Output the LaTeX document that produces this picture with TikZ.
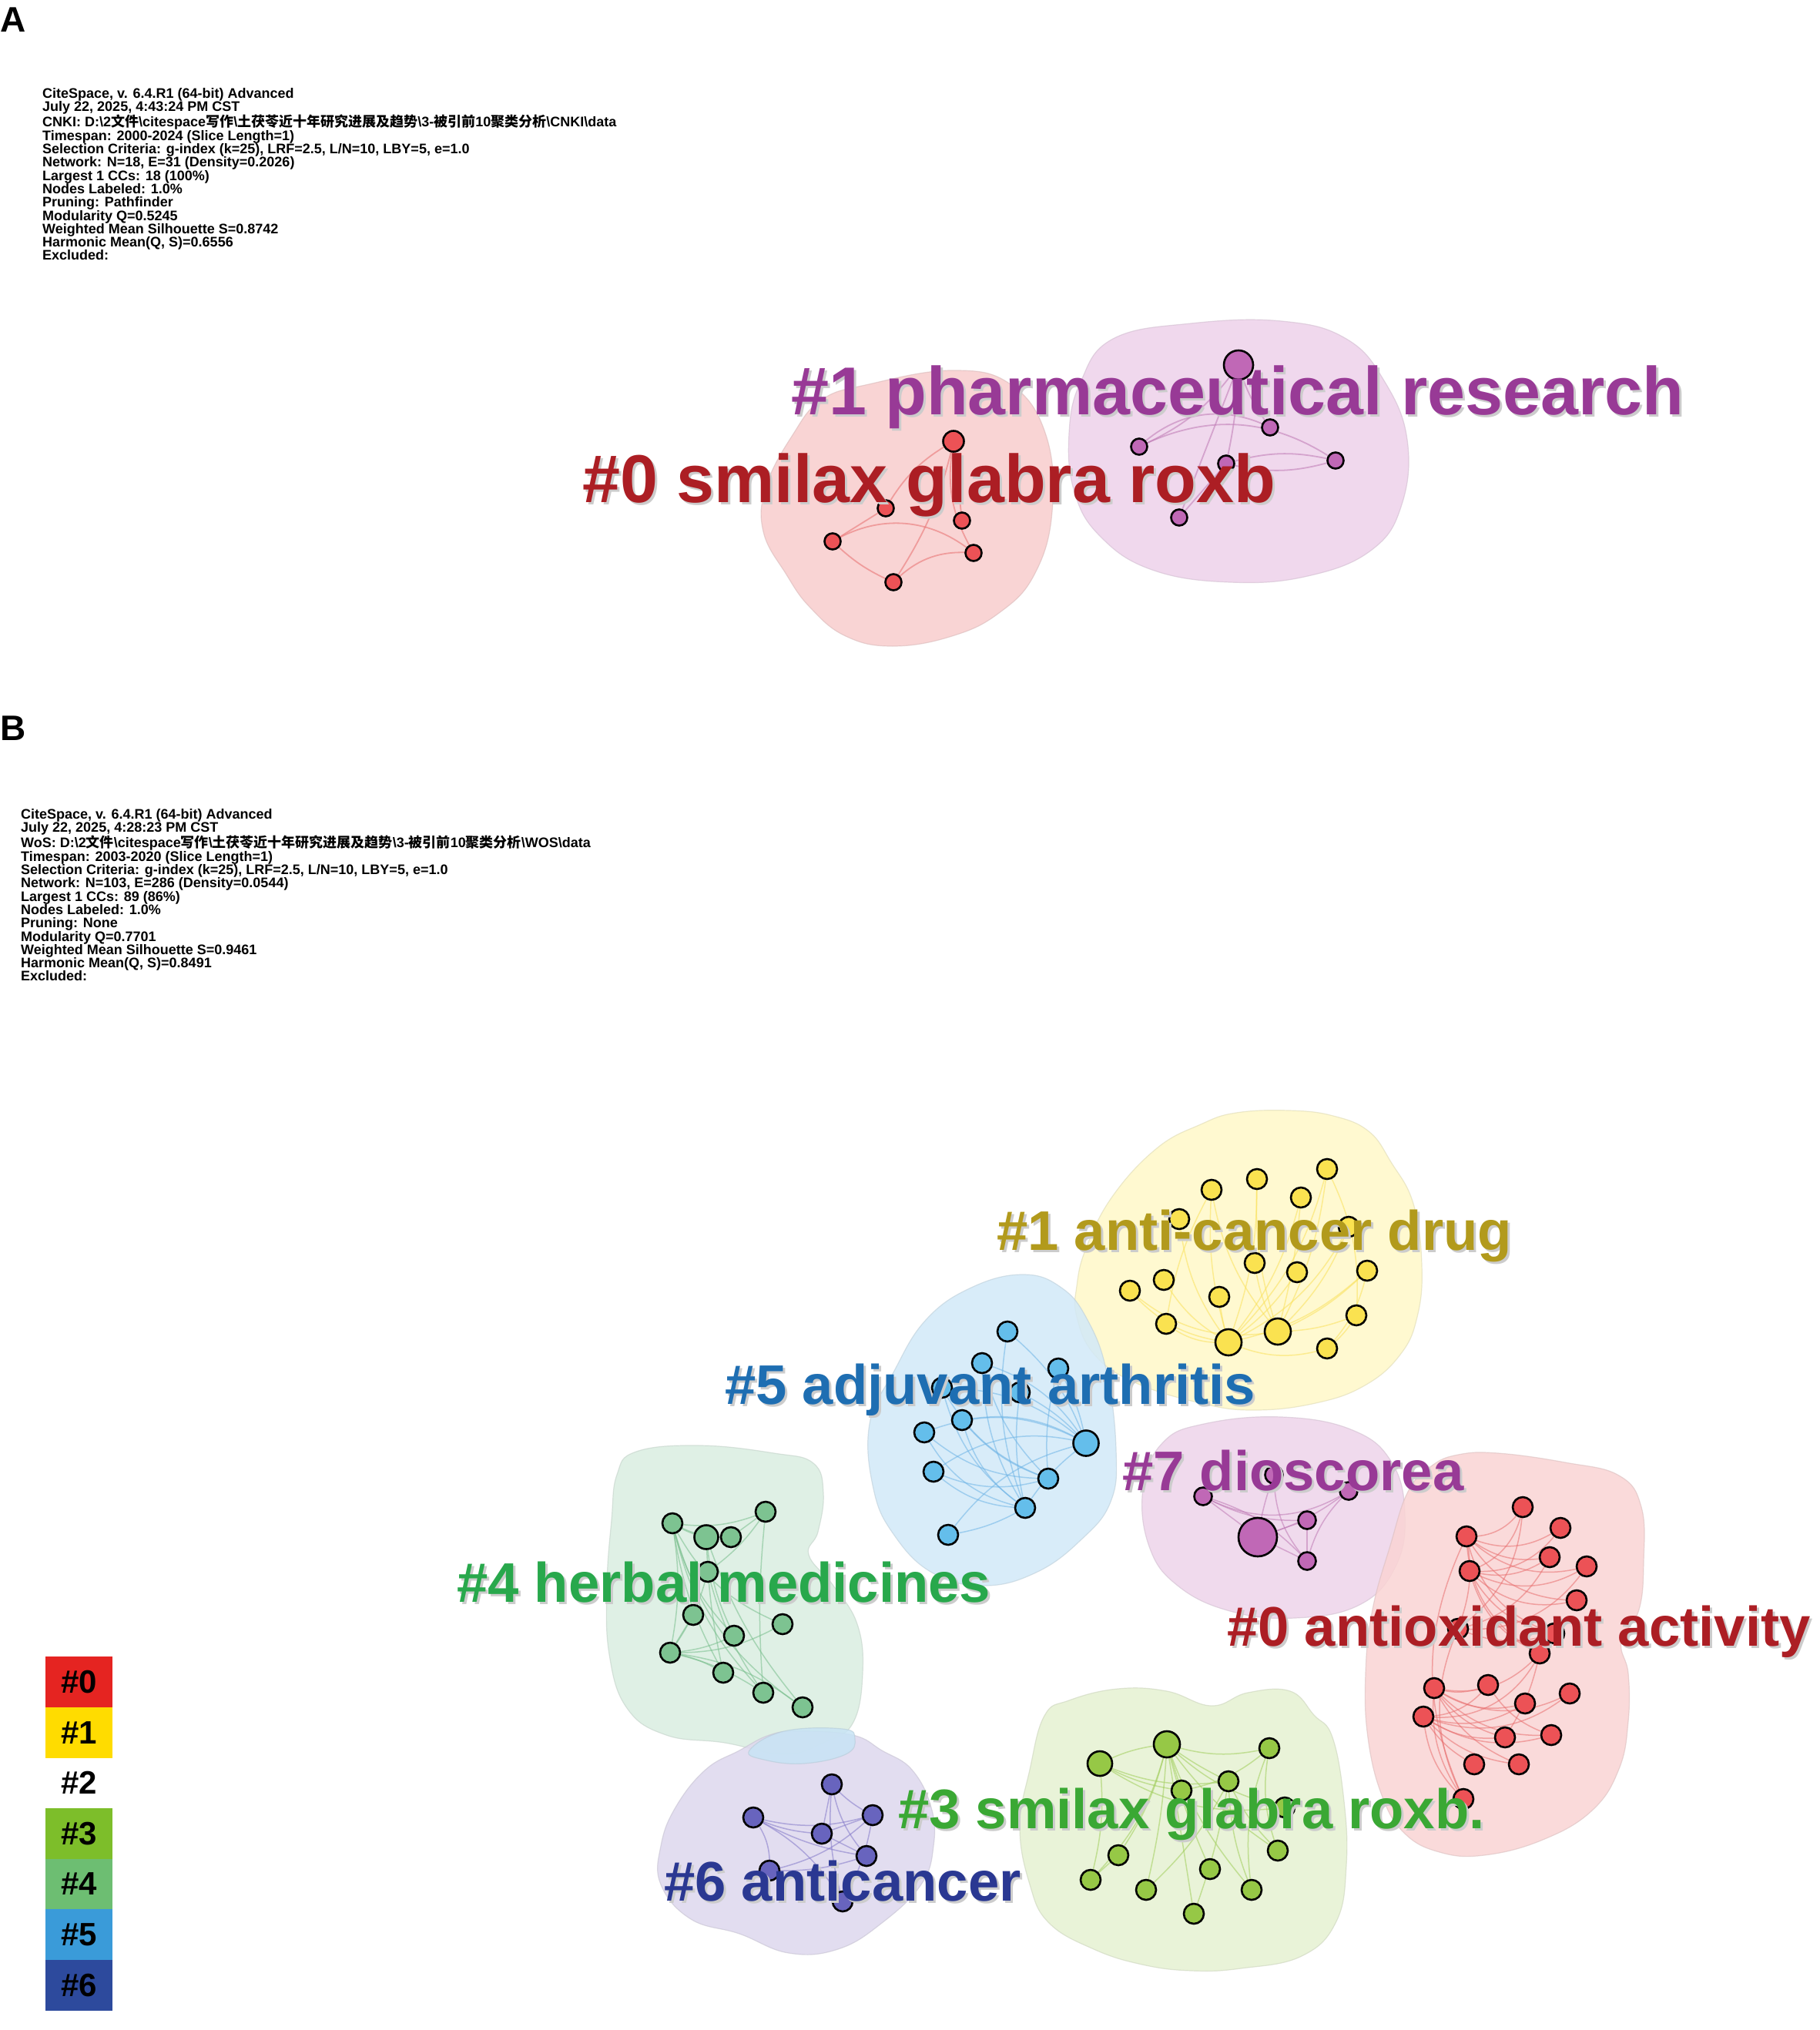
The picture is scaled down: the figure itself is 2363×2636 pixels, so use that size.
\documentclass[tikz,border=0pt]{standalone}
\usepackage{fontspec}
\setmainfont{Liberation Sans}
\newfontfamily\cjk{Noto Sans CJK SC}
\definecolor{labPur}{RGB}{152,58,150}
\definecolor{labRed}{RGB}{172,30,36}
\definecolor{labOli}{RGB}{178,154,28}
\definecolor{labBlu}{RGB}{30,110,178}
\definecolor{labGr4}{RGB}{40,168,76}
\definecolor{labGr3}{RGB}{58,168,52}
\definecolor{labNav}{RGB}{42,56,146}
% blobs
\definecolor{bRedA}{RGB}{248,205,205}
\definecolor{bPurA}{RGB}{238,210,235}
\definecolor{bYel}{RGB}{255,249,200}
\definecolor{bBlu}{RGB}{210,233,248}
\definecolor{bPur7}{RGB}{238,212,235}
\definecolor{bRed0}{RGB}{250,212,212}
\definecolor{bGr4}{RGB}{218,238,225}
\definecolor{bPur6}{RGB}{222,216,238}
\definecolor{bGr3}{RGB}{230,242,210}
\definecolor{bOvl}{RGB}{200,228,245}
% node fills
\definecolor{nRed}{RGB}{236,82,86}
\definecolor{nPur}{RGB}{192,104,182}
\definecolor{nYel}{RGB}{250,226,80}
\definecolor{nBlu}{RGB}{100,190,235}
\definecolor{nGr4}{RGB}{125,195,145}
\definecolor{nPur6}{RGB}{104,100,190}
\definecolor{nGr3}{RGB}{150,200,70}
% edges
\definecolor{eRed}{RGB}{232,110,110}
\definecolor{ePur}{RGB}{190,120,180}
\definecolor{eYel}{RGB}{250,225,90}
\definecolor{eBlu}{RGB}{110,180,230}
\definecolor{eGr4}{RGB}{120,190,140}
\definecolor{ePur6}{RGB}{130,120,200}
\definecolor{eGr3}{RGB}{160,205,90}
% legend
\definecolor{lg0}{RGB}{229,36,33}
\definecolor{lg1}{RGB}{255,220,0}
\definecolor{lg3}{RGB}{125,190,42}
\definecolor{lg4}{RGB}{109,190,114}
\definecolor{lg5}{RGB}{58,155,217}
\definecolor{lg6}{RGB}{45,74,157}
\newcommand\clabel[5]{%
  \node[lbl,text=gray!40,font=\fontsize{#3}{#3}\selectfont\bfseries,xshift=3pt,yshift=-3pt] (#5s) at (#1) {#4};
  \node[lbl,text=#2,font=\fontsize{#3}{#3}\selectfont\bfseries] (#5) at (#1) {#4};}
\begin{document}
\begin{tikzpicture}[x=1pt,y=-1pt,
  blob/.style={fill=#1, draw=#1!75!gray, line width=1.2pt, fill opacity=0.85, draw opacity=0.6},
  nd/.style={circle, draw=black, line width=2.6pt, inner sep=0pt, minimum size=#1},
  nd/.default=26pt,
  ed/.style={draw=#1, line width=1.5pt, draw opacity=0.55},
  lbl/.style={anchor=base west, inner sep=0pt},
  info/.style={anchor=north west, inner sep=0pt, align=left, font=\fontsize{18}{17.3}\selectfont\bfseries},
  leg/.style={minimum width=87pt, minimum height=65.6pt, inner sep=0pt, font=\fontsize{42}{42}\selectfont\bfseries}]
\fill[white] (0,0) rectangle (2363,2636);
\useasboundingbox (0,0) rectangle (2363,2636);

% panel letters
\node[anchor=base west, inner sep=0pt, font=\fontsize{46}{46}\selectfont\bfseries] (letA) at (0,42) {A};
\node[anchor=base west, inner sep=0pt, font=\fontsize{46}{46}\selectfont\bfseries] (letB) at (0,961) {B};

% info text
\node[info] (infoA) at (55,114) {CiteSpace, v. 6.4.R1 (64-bit) Advanced\\
July 22, 2025, 4:43:24 PM CST\\
CNKI: D:\textbackslash 2{\cjk 文件}\textbackslash citespace{\cjk 写作}\textbackslash{\cjk 土茯苓近十年研究进展及趋势}\textbackslash 3-{\cjk 被引前}10{\cjk 聚类分析}\textbackslash CNKI\textbackslash data\\
Timespan: 2000-2024 (Slice Length=1)\\
Selection Criteria: g-index (k=25), LRF=2.5, L/N=10, LBY=5, e=1.0\\
Network: N=18, E=31 (Density=0.2026)\\
Largest 1 CCs: 18 (100\%)\\
Nodes Labeled: 1.0\%\\
Pruning: Pathfinder\\
Modularity Q=0.5245\\
Weighted Mean Silhouette S=0.8742\\
Harmonic Mean(Q, S)=0.6556\\
Excluded:};

\node[info] (infoB) at (27,1050) {CiteSpace, v. 6.4.R1 (64-bit) Advanced\\
July 22, 2025, 4:28:23 PM CST\\
WoS: D:\textbackslash 2{\cjk 文件}\textbackslash citespace{\cjk 写作}\textbackslash{\cjk 土茯苓近十年研究进展及趋势}\textbackslash 3-{\cjk 被引前}10{\cjk 聚类分析}\textbackslash WOS\textbackslash data\\
Timespan: 2003-2020 (Slice Length=1)\\
Selection Criteria: g-index (k=25), LRF=2.5, L/N=10, LBY=5, e=1.0\\
Network: N=103, E=286 (Density=0.0544)\\
Largest 1 CCs: 89 (86\%)\\
Nodes Labeled: 1.0\%\\
Pruning: None\\
Modularity Q=0.7701\\
Weighted Mean Silhouette S=0.9461\\
Harmonic Mean(Q, S)=0.8491\\
Excluded:};

% ===== Panel A blobs =====
\path[blob=bRedA] plot[smooth cycle, tension=0.7] coordinates {(1128,499) (1236,481) (1312,499) (1358,565) (1366,664) (1343,746) (1297,796) (1236,826) (1159,839) (1098,826) (1052,789) (1021,746) (991,690) (995,631) (1029,565) (1067,519)};
\path[blob=bPurA] plot[smooth cycle, tension=0.7] coordinates {(1445,440) (1546,420) (1664,417) (1748,440) (1798,496) (1827,571) (1820,655) (1781,714) (1698,748) (1597,756) (1496,740) (1429,697) (1395,639) (1388,563) (1403,496)};

% ===== Panel B blobs =====
\path[blob=bYel] plot[smooth cycle, tension=0.7] coordinates {(1605,1445) (1674,1442) (1731,1449) (1777,1469) (1806,1509) (1835,1563) (1846,1643) (1840,1710) (1818,1759) (1772,1799) (1708,1822) (1628,1831) (1559,1822) (1473,1795) (1421,1759) (1398,1710) (1398,1670) (1410,1621) (1444,1554) (1502,1491) (1559,1460)};
\path[blob=bBlu] plot[smooth cycle, tension=0.7] coordinates {(1328,1655) (1261,1672) (1202,1714) (1160,1782) (1129,1849) (1134,1933) (1160,1992) (1210,2042) (1277,2059) (1345,2042) (1403,2000) (1442,1950) (1449,1882) (1437,1782) (1412,1714) (1378,1672)};
\path[blob=bPur7] plot[smooth cycle, tension=0.7] coordinates {(1563,1849) (1664,1840) (1756,1857) (1807,1899) (1824,1966) (1812,2034) (1765,2084) (1681,2101) (1597,2092) (1529,2059) (1492,2008) (1484,1933) (1509,1874)};
\path[blob=bRed0] plot[smooth cycle, tension=0.7] coordinates {(1893,1889) (1945,1887) (2032,1899) (2102,1916) (2131,1957) (2134,2028) (2128,2090) (2105,2132) (2114,2173) (2114,2235) (2102,2297) (2067,2351) (2003,2389) (1927,2409) (1869,2405) (1823,2380) (1794,2331) (1776,2256) (1773,2173) (1782,2090) (1805,2007) (1828,1937) (1858,1904)};
\path[blob=bGr4] plot[smooth cycle, tension=0.7] coordinates {(826,1885) (909,1877) (1005,1887) (1056,1900) (1069,1939) (1062,1989) (1050,2019) (1082,2059) (1113,2109) (1120,2173) (1107,2238) (1069,2263) (1018,2278) (941,2263) (865,2253) (814,2218) (791,2148) (788,2059) (794,1974) (801,1915)};
\path[blob=bPur6] plot[smooth cycle, tension=0.7] coordinates {(1037,2248) (1107,2253) (1145,2273) (1184,2298) (1209,2347) (1212,2397) (1196,2447) (1145,2497) (1088,2531) (1024,2536) (960,2511) (897,2492) (858,2447) (858,2397) (877,2347) (916,2298) (960,2273) (999,2253)};
\path[blob=bOvl] plot[smooth cycle, tension=0.7] coordinates {(973,2273) (1018,2248) (1094,2245) (1110,2258) (1098,2278) (1043,2290) (992,2285)};
\path[blob=bGr3] plot[smooth cycle, tension=0.7] coordinates {(1356,2228) (1388,2208) (1451,2193) (1515,2196) (1573,2215) (1620,2198) (1675,2196) (1706,2227) (1730,2256) (1745,2339) (1748,2422) (1735,2495) (1690,2540) (1611,2556) (1547,2559) (1483,2551) (1420,2531) (1362,2497) (1337,2447) (1324,2372) (1337,2298)};

% ===== Node coordinates (panel A) =====
\coordinate (ar1) at (1238,573); \coordinate (ar2) at (1150,660); \coordinate (ar3) at (1249,676);
\coordinate (ar4) at (1081,703); \coordinate (ar5) at (1264,718); \coordinate (ar6) at (1160,756);
\coordinate (ap1) at (1608,474); \coordinate (ap2) at (1649,555); \coordinate (ap3) at (1479,580);
\coordinate (ap4) at (1592,602); \coordinate (ap5) at (1734,598); \coordinate (ap6) at (1531,672);

% ===== Node coordinates (panel B) =====
\foreach \n/\p in {y1/{1723,1518}, y2/{1632,1531}, y3/{1573,1545}, y4/{1689,1555}, y5/{1531,1583}, y6/{1751,1593}, y7/{1629,1640}, y8/{1684,1652}, y9/{1775,1650}, y10/{1511,1662}, y11/{1467,1676}, y12/{1583,1684}, y13/{1761,1708}, y14/{1514,1719}, y15/{1595,1743}, y16/{1659,1729}, y17/{1723,1751},
 b1/{1308,1729}, b2/{1275,1770}, b3/{1374,1777}, b4/{1223,1802}, b5/{1324,1808}, b6/{1249,1844}, b7/{1200,1860}, b8/{1410,1874}, b9/{1212,1911}, b10/{1361,1920}, b11/{1331,1958}, b12/{1231,1993},
 q1/{1562,1943}, q2/{1654,1915}, q3/{1751,1936}, q4/{1697,1974}, q5/{1633,1996}, q6/{1697,2027},
 r1/{1977,1957}, r2/{2026,1984}, r3/{1904,1995}, r4/{2012,2022}, r5/{2060,2034}, r6/{1908,2040}, r7/{2047,2078}, r8/{1893,2115}, r9/{2018,2121}, r10/{1999,2147}, r11/{1862,2192}, r12/{1932,2188}, r13/{2038,2199}, r14/{1980,2212}, r15/{1848,2229}, r16/{1954,2256}, r17/{2014,2253}, r18/{1914,2291}, r19/{1972,2291}, r20/{1900,2336},
 g1/{873,1978}, g2/{994,1963}, g3/{917,1996}, g4/{949,1996}, g5/{919,2041}, g6/{900,2097}, g7/{1016,2109}, g8/{953,2124}, g9/{870,2146}, g10/{939,2172}, g11/{991,2198}, g12/{1042,2217},
 p1/{1080,2317}, p2/{978,2360}, p3/{1133,2357}, p4/{1067,2381}, p5/{1125,2410}, p6/{999,2429}, p7/{1094,2469},
 t1/{1515,2265}, t2/{1428,2290}, t3/{1648,2270}, t4/{1595,2313}, t5/{1534,2325}, t6/{1668,2347}, t7/{1452,2409}, t8/{1571,2427}, t9/{1659,2403}, t10/{1416,2441}, t11/{1488,2454}, t12/{1625,2454}, t13/{1550,2485}}
 {\coordinate (\n) at (\p);}

% ===== Edges =====
\foreach \a/\b/\c in {ar1/ar2/-15, ar1/ar6/10, ar1/ar5/-20, ar1/ar3/0, ar4/ar5/35, ar6/ar5/25, ar4/ar2/0, ar4/ar6/-10}
  \draw[ed=eRed, line width=1.8pt] (\a) to[bend left=\c] (\b);
\foreach \a/\b/\c in {ap1/ap3/15, ap1/ap4/5, ap1/ap6/0, ap1/ap2/-10, ap3/ap2/35, ap4/ap5/15, ap4/ap5/-15, ap6/ap4/0, ap3/ap5/30}
  \draw[ed=ePur, line width=1.8pt] (\a) to[bend left=\c] (\b);
\foreach \a/\b/\c in {y15/y1/-15, y15/y2/-10, y15/y3/10, y15/y4/-12, y15/y5/15, y15/y6/-18, y15/y8/-10, y15/y9/-15, y15/y10/15, y15/y11/20, y15/y12/5, y15/y14/20, y15/y17/-20, y16/y1/-10, y16/y2/10, y16/y4/-5, y16/y6/-12, y16/y7/10, y16/y9/-10, y16/y13/-10, y16/y11/25, y16/y3/15, y17/y13/-10, y17/y9/-15, y14/y3/10, y13/y1/-15}
  \draw[ed=eYel] (\a) to[bend left=\c] (\b);
\foreach \a/\b/\c in {b8/b1/-15, b8/b2/-20, b8/b3/-10, b8/b4/-20, b8/b5/-10, b8/b6/-20, b8/b7/-25, b8/b9/-25, b8/b11/-10, b8/b12/-20, b11/b1/15, b11/b2/15, b11/b4/20, b11/b6/20, b11/b7/25, b11/b9/20, b11/b12/10, b11/b5/10, b10/b2/15, b10/b4/20, b10/b6/15, b10/b7/20, b10/b9/20, b10/b3/10}
  \draw[ed=eBlu] (\a) to[bend left=\c] (\b);
\foreach \a/\b/\c in {q5/q1/0, q5/q2/5, q5/q3/-10, q5/q4/0, q5/q6/0, q1/q3/-30, q1/q4/-15, q4/q6/0, q3/q6/-15, q2/q6/-20, q1/q6/15}
  \draw[ed=ePur] (\a) to[bend left=\c] (\b);
\foreach \a/\b/\c in {r3/r1/-30, r3/r2/-30, r3/r4/-25, r3/r5/-30, r3/r7/-30, r3/r9/-30, r3/r10/-30, r3/r8/15, r6/r1/-30, r6/r2/-30, r6/r4/-25, r6/r5/-30, r6/r7/-30, r6/r9/-25, r6/r10/-25, r8/r1/-25, r8/r4/-25, r8/r5/-30, r8/r9/-20, r11/r10/-30, r11/r12/-20, r11/r13/-30, r11/r14/-25, r11/r16/-20, r11/r17/-25, r11/r19/-20, r15/r12/-25, r15/r13/-30, r15/r14/-25, r15/r16/-20, r15/r17/-25, r15/r18/-15, r15/r19/-20, r15/r10/-35, r20/r15/20, r20/r11/20, r20/r8/25, r20/r3/25, r12/r17/-20, r10/r16/10}
  \draw[ed=eRed] (\a) to[bend left=\c] (\b);
\foreach \a/\b/\c in {g1/g3/-10, g1/g4/-15, g1/g7/-20, g1/g8/-15, g1/g10/-10, g1/g11/-15, g1/g12/-20, g1/g9/10, g1/g2/-15, g9/g6/0, g9/g8/-10, g9/g7/-15, g9/g11/10, g9/g12/15, g9/g10/10, g2/g11/-5, g2/g4/0, g2/g5/10, g3/g12/-10, g3/g10/-5, g3/g8/-10, g5/g9/10, g5/g11/-10}
  \draw[ed=eGr4] (\a) to[bend left=\c] (\b);
\foreach \a/\b/\c in {p2/p3/-15, p2/p4/-10, p2/p5/-10, p2/p7/15, p2/p6/20, p1/p3/-10, p1/p4/0, p1/p5/-15, p1/p7/-10, p4/p3/0, p4/p5/0, p6/p3/-15, p6/p5/-10, p7/p3/-10}
  \draw[ed=ePur6] (\a) to[bend left=\c] (\b);
\foreach \a/\b/\c in {t1/t2/-10, t1/t3/-15, t1/t4/-5, t1/t5/0, t1/t6/-15, t1/t7/10, t1/t8/-5, t1/t9/-10, t1/t10/15, t1/t11/5, t1/t12/-10, t1/t13/0, t2/t4/-15, t2/t5/-10, t2/t6/-20, t3/t5/15, t3/t9/-15, t3/t12/-15, t4/t9/-10, t4/t12/-10, t4/t13/5, t4/t11/10, t10/t7/0, t10/t2/-10}
  \draw[ed=eGr3] (\a) to[bend left=\c] (\b);

% ===== Nodes =====
\node[nd=27pt, fill=nRed] (nar1) at (ar1) {};
\foreach \n in {ar2,ar3,ar4,ar5,ar6} \node[nd=21pt, fill=nRed] (n\n) at (\n) {};
\node[nd=38pt, fill=nPur] (nap1) at (ap1) {};
\foreach \n in {ap2,ap3,ap4,ap5,ap6} \node[nd=21pt, fill=nPur] (n\n) at (\n) {};
\foreach \n in {y1,y2,y3,y4,y5,y6,y7,y8,y9,y10,y11,y12,y13,y14,y17} \node[nd, fill=nYel] (n\n) at (\n) {};
\foreach \n in {y15,y16} \node[nd=34pt, fill=nYel] (n\n) at (\n) {};
\foreach \n in {b1,b2,b3,b4,b5,b6,b7,b9,b10,b11,b12} \node[nd, fill=nBlu] (n\n) at (\n) {};
\node[nd=33pt, fill=nBlu] (nb8) at (b8) {};
\foreach \n in {q1,q2,q3,q4,q6} \node[nd=23pt, fill=nPur] (n\n) at (\n) {};
\node[nd=50pt, fill=nPur] (nq5) at (q5) {};
\foreach \n in {r1,r2,r3,r4,r5,r6,r7,r8,r9,r10,r11,r12,r13,r14,r15,r16,r17,r18,r19,r20} \node[nd, fill=nRed] (n\n) at (\n) {};
\foreach \n in {g1,g2,g4,g5,g6,g7,g8,g9,g10,g11,g12} \node[nd, fill=nGr4] (n\n) at (\n) {};
\node[nd=31pt, fill=nGr4] (ng3) at (g3) {};
\foreach \n in {p1,p2,p3,p4,p5,p6,p7} \node[nd, fill=nPur6] (n\n) at (\n) {};
\foreach \n in {t3,t4,t5,t6,t7,t8,t9,t10,t11,t12,t13} \node[nd, fill=nGr3] (n\n) at (\n) {};
\node[nd=34pt, fill=nGr3] (nt1) at (t1) {};
\node[nd=32pt, fill=nGr3] (nt2) at (t2) {};

% ===== Cluster labels =====
\clabel{1027,538}{labPur}{88}{\#1 pharmaceutical research}{LA1}
\clabel{756,652}{labRed}{88}{\#0 smilax glabra roxb}{LA0}
\clabel{1294,1623}{labOli}{72.5}{\#1 anti-cancer drug}{LB1}
\clabel{941,1823}{labBlu}{72.5}{\#5 adjuvant arthritis}{LB5}
\clabel{1457,1935}{labPur}{72.5}{\#7 dioscorea}{LB7}
\clabel{593,2080}{labGr4}{72.5}{\#4 herbal medicines}{LB4}
\clabel{1593,2137}{labRed}{72.5}{\#0 antioxidant activity}{LB0}
\clabel{1166,2374}{labGr3}{72.5}{\#3 smilax glabra roxb.}{LB3}
\clabel{862,2468}{labNav}{72.5}{\#6 anticancer}{LB6}

% ===== Legend =====
\node[leg, fill=lg0] (lg0) at (102.5,2184.1) {\#0};
\node[leg, fill=lg1] (lg1) at (102.5,2249.7) {\#1};
\node[leg] (lg2) at (102.5,2315.3) {\#2};
\node[leg, fill=lg3] (lg3) at (102.5,2380.9) {\#3};
\node[leg, fill=lg4] (lg4) at (102.5,2446.5) {\#4};
\node[leg, fill=lg5] (lg5) at (102.5,2512.1) {\#5};
\node[leg, fill=lg6] (lg6) at (102.5,2577.7) {\#6};
\end{tikzpicture}
\end{document}
